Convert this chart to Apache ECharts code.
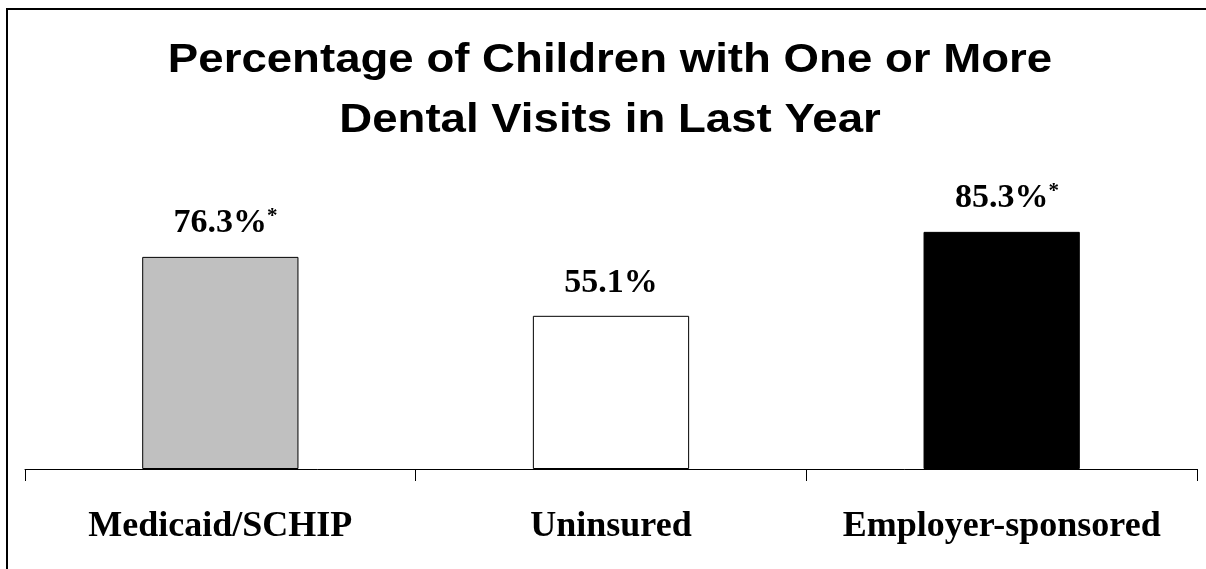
<!DOCTYPE html>
<html>
<head>
<meta charset="utf-8">
<script src="https://cdn.jsdelivr.net/npm/echarts@6/dist/echarts.min.js"></script>
<style>
  html, body { margin: 0; padding: 0; background: #fff; }
  #chart { width: 1206px; height: 569px; }
</style>
</head>
<body>
<div id="chart"></div>
<script>
// Insurance groups, dental-visit percentages and significance markers
const categories = ['Medicaid/SCHIP', 'Uninsured', 'Employer-sponsored'];
const values = [76.3, 55.1, 85.3];
const significant = [true, false, true];
const barColors = ['#C0C0C0', '#FFFFFF', '#000000'];
const titleText = 'Percentage of Children with One or More\nDental Visits in Last Year';

const chart = echarts.init(document.getElementById('chart'), null, { renderer: 'canvas' });

const serif = '"Liberation Serif", "Times New Roman", serif';
const sans = '"Liberation Sans", Arial, sans-serif';

chart.setOption({
  backgroundColor: '#fff',
  animation: false,
  graphic: [{
    // outer frame (only top and left edges fall inside the canvas)
    type: 'rect',
    shape: { x: 7, y: 9, width: 1400, height: 1000 },
    style: { fill: 'none', stroke: '#000', lineWidth: 2 },
    silent: true
  }, {
    // wide bold heading, two centred lines
    type: 'text',
    x: 610,
    y: 31,
    scaleX: 1.14,
    scaleY: 1,
    silent: true,
    style: {
      text: titleText,
      fontFamily: sans,
      fontWeight: 'bold',
      fontSize: 40,
      lineHeight: 60,
      fill: '#000',
      align: 'center',
      verticalAlign: 'top'
    }
  }],
  grid: { left: 25, right: 9, top: 191, bottom: 100 },
  xAxis: {
    type: 'category',
    data: categories,
    axisLine: { lineStyle: { color: '#000', width: 1 } },
    axisTick: { show: true, interval: 0, length: 12, lineStyle: { color: '#000', width: 1 } },
    axisLabel: {
      interval: 0,
      margin: 40,
      color: '#000',
      fontFamily: serif,
      fontWeight: 'bold',
      fontSize: 36
    }
  },
  yAxis: {
    type: 'value',
    min: 0,
    max: 100,
    show: false,
    splitLine: { show: false }
  },
  series: [{
    type: 'bar',
    barCategoryGap: '60%',
    data: values.map((v, i) => ({
      value: v,
      itemStyle: { color: barColors[i], borderColor: '#000', borderWidth: 1 }
    })),
    label: {
      show: true,
      position: 'top',
      distance: 16,
      formatter: p => {
        const txt = p.value.toFixed(1) + '%';
        return significant[p.dataIndex]
          ? '{g|*}{v|' + txt + '}{s|*}'
          : '{v|' + txt + '}';
      },
      rich: {
        v: { fontFamily: serif, fontWeight: 'bold', fontSize: 34, color: '#000' },
        s: { fontFamily: serif, fontWeight: 'bold', fontSize: 21, color: '#000', verticalAlign: 'top', padding: [0, 0, 14, 0] },
        g: { fontFamily: serif, fontWeight: 'bold', fontSize: 21, color: 'transparent', verticalAlign: 'top', padding: [0, 0, 14, 0] }
      }
    }
  }]
});
</script>
</body>
</html>
